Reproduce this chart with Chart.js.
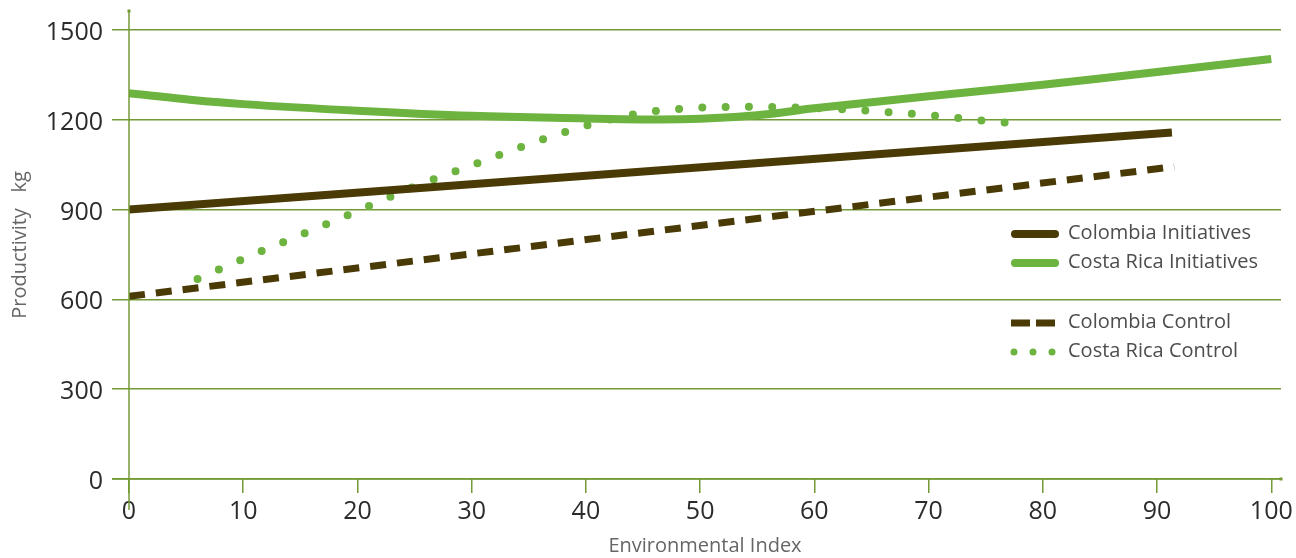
<!DOCTYPE html>
<html>
<head>
<meta charset="utf-8">
<script src="https://cdn.jsdelivr.net/npm/chart.js@4"></script>
<style>
  html,body{margin:0;padding:0;background:#fff;}
  #wrap{width:1296px;height:558px;position:relative;}
</style>
</head>
<body>
<div id="wrap"><canvas id="chart"></canvas></div>
<script>
// data
const xTicks=[0,10,20,30,40,50,60,70,80,90,100];
const yTicks=[0,300,600,900,1200,1500];

const colombiaInitX=[0,91.3];
const colombiaInitY=[900,1157];

const costaInitX=[0,5,10,20,30,40,45,50,55,60,70,80,90,100];
const costaInitY=[1288,1268,1252,1230,1213,1204,1201,1203,1215,1238,1278,1317,1359,1403];

const colombiaCtrlX=[0,91.5];
const colombiaCtrlY=[610,1043];

const costaCtrlX=[6,10,15,20,25,30,35,40,45,50,55,60,65,70,75,77];
const costaCtrlY=[668,735,815,895,977,1047,1118,1180,1223,1240,1243,1239,1229,1215,1196,1189];

const BROWN="#4a3a06";
const GREEN="#6cb33f";
const GRID="#739a34";
const FONT="'Open Sans', 'Noto Sans', sans-serif";

function pts(xs,ys){return xs.map((x,i)=>({x:x,y:ys[i]}));}

// axis lines with end dots, plus the legend over the plot
const extras={
  id:"extras",
  afterDraw(chart){
    const ctx=chart.ctx, a=chart.chartArea;
    const x0=chart.scales.x.getPixelForValue(0);
    const y0=chart.scales.y.getPixelForValue(0);
    ctx.save();
    ctx.strokeStyle=GRID; ctx.fillStyle=GRID; ctx.lineWidth=1.5;
    ctx.beginPath(); ctx.moveTo(x0,a.top); ctx.lineTo(x0,y0+31); ctx.stroke();
    ctx.beginPath(); ctx.moveTo(x0-17,y0); ctx.lineTo(a.right,y0); ctx.stroke();
    ctx.fillRect(x0-1.5,a.top-1.5,3,3);
    ctx.fillRect(a.right-1.5,y0-1.5,3,3);

    // legend
    const items=[
      {label:"Colombia Initiatives",y:234,ds:0},
      {label:"Costa Rica Initiatives",y:263,ds:1},
      {label:"Colombia Control",y:323,ds:2},
      {label:"Costa Rica Control",y:352,ds:3}
    ];
    ctx.font="20px "+FONT;
    ctx.textBaseline="middle";
    items.forEach(it=>{
      const ds=chart.data.datasets[it.ds];
      ctx.strokeStyle=ds.borderColor;
      ctx.lineWidth=ds.borderWidth;
      ctx.lineCap="round";
      let x1=1015,x2=1055;
      if(it.ds===2){
        ctx.lineCap="butt";
        ctx.setLineDash([19,6]);
        x1=1011;
      } else if(it.ds===3){
        ctx.setLineDash([0,19]);
        ctx.lineWidth=7;
        x1=1014; x2=1053.5;
      } else ctx.setLineDash([]);
      ctx.beginPath();
      ctx.moveTo(x1,it.y); ctx.lineTo(x2,it.y); ctx.stroke();
      ctx.setLineDash([]);
      ctx.fillStyle="#4d4d4d";
      ctx.fillText(it.label,1068,it.y-1);
    });
    ctx.restore();
  }
};

new Chart(document.getElementById("chart"),{
  type:"line",
  data:{
    datasets:[
      {label:"Colombia Initiatives",data:pts(colombiaInitX,colombiaInitY),
       borderColor:BROWN,borderWidth:8,pointRadius:0,borderCapStyle:"butt"},
      {label:"Costa Rica Initiatives",data:pts(costaInitX,costaInitY),
       borderColor:GREEN,borderWidth:8,pointRadius:0,tension:0.4},
      {label:"Colombia Control",data:pts(colombiaCtrlX,colombiaCtrlY),
       borderColor:BROWN,borderWidth:7,pointRadius:0,borderDash:[16,11]},
      {label:"Costa Rica Control",data:pts(costaCtrlX,costaCtrlY),
       borderColor:GREEN,borderWidth:8,pointRadius:0,borderDash:[0,23.3],
       borderCapStyle:"round",cubicInterpolationMode:"monotone"}
    ]
  },
  plugins:[extras],
  options:{
    responsive:true,
    maintainAspectRatio:false,
    animation:false,
    layout:{padding:{top:11,right:15,left:0,bottom:0}},
    plugins:{legend:{display:false},tooltip:{enabled:false}},
    scales:{
      x:{
        type:"linear",min:0,max:100.85,
        afterBuildTicks(s){s.ticks=xTicks.map(v=>({value:v}));},
        afterFit(s){s.height=79;s.paddingLeft=0;s.paddingRight=0;},
        border:{display:false},
        grid:{drawOnChartArea:false,drawTicks:true,tickLength:14,color:GRID,lineWidth:1.5},
        ticks:{color:"#2b2b2b",font:{family:FONT,size:25},padding:4,maxRotation:0,autoSkip:false,
               callback:v=>String(v)},
        title:{display:true,text:"Environmental Index",color:"#666",
               font:{family:FONT,size:20},padding:{top:0,bottom:0}}
      },
      y:{
        min:0,max:1563,
        afterBuildTicks(s){s.ticks=yTicks.map(v=>({value:v}));},
        afterFit(s){s.width=129;s.paddingTop=0;s.paddingBottom=0;},
        border:{display:false},
        grid:{drawTicks:true,tickLength:17,color:GRID,lineWidth:1.5},
        ticks:{color:"#2b2b2b",font:{family:FONT,size:25},padding:9,labelOffset:3,
               callback:v=>String(v)},
        title:{display:true,text:"Productivity   kg",color:"#666",
               font:{family:FONT,size:20},padding:{top:8,bottom:0}}
      }
    }
  }
});
</script>
</body>
</html>
